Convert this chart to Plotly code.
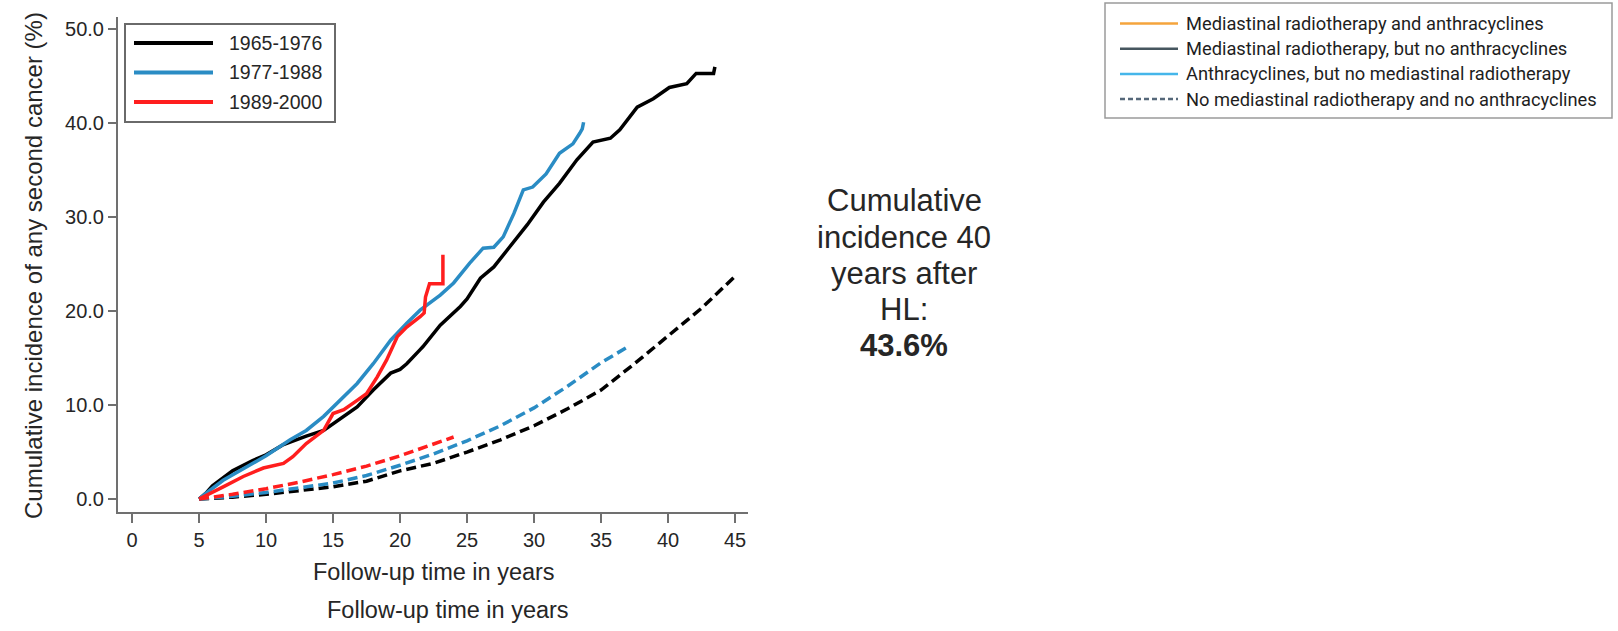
import plotly.graph_objects as go

# ---------------- data ----------------
# Cumulative incidence (%) of any second cancer by treatment era, observed (solid)
years_1965 = [5.0, 5.5, 6.0, 6.8, 7.5, 9.0, 10.0, 11.3, 12.5, 13.0, 14.3, 15.0, 15.5, 16.8,
              18.0, 19.0, 19.3, 20.0, 20.5, 21.5, 21.7, 23.0, 24.0, 24.5, 25.0, 26.0, 27.0,
              28.2, 29.5, 30.7, 31.9, 33.2, 34.4, 35.7, 36.4, 37.7, 38.9, 40.1, 41.4, 42.1,
              43.4, 43.5]
inc_1965 = [0.0, 0.6, 1.4, 2.3, 3.0, 4.1, 4.7, 5.8, 6.5, 6.7, 7.3, 8.0, 8.4, 9.8,
            11.6, 13.0, 13.4, 13.8, 14.4, 15.9, 16.2, 18.5, 19.8, 20.5, 21.3, 23.5, 24.7,
            26.8, 29.2, 31.6, 33.6, 36.1, 38.0, 38.4, 39.3, 41.7, 42.6, 43.8, 44.2, 45.3,
            45.3, 46.0]

years_1977 = [5.0, 5.5, 6.8, 8.0, 9.3, 10.0, 11.8, 13.0, 14.3, 15.5, 16.8, 18.0, 19.3,
              20.5, 21.5, 23.0, 24.0, 25.2, 26.2, 27.0, 27.7, 28.5, 29.2, 29.9, 30.9,
              31.9, 32.9, 33.4, 33.6, 33.7]
inc_1977 = [0.0, 0.6, 2.0, 3.0, 4.1, 4.6, 6.3, 7.3, 8.8, 10.5, 12.3, 14.4, 16.9,
            18.7, 20.1, 21.7, 23.0, 25.1, 26.7, 26.8, 27.9, 30.4, 32.9, 33.2, 34.6,
            36.8, 37.8, 38.9, 39.4, 40.1]

years_1989 = [5.0, 5.6, 6.8, 8.3, 9.8, 11.3, 12.0, 13.0, 14.3, 15.0, 15.8, 16.8, 17.5,
              18.3, 19.0, 19.8, 20.5, 21.5, 21.8, 21.9, 22.2, 23.2, 23.2]
inc_1989 = [0.0, 0.4, 1.3, 2.4, 3.3, 3.8, 4.5, 5.9, 7.3, 9.1, 9.5, 10.5, 11.2,
            13.0, 14.8, 17.3, 18.3, 19.4, 19.8, 21.5, 22.9, 22.9, 26.0]

# Expected incidence in the general population (dashed)
years_exp_1965 = [5.0, 7.5, 10.0, 12.5, 15.0, 17.5, 20.0, 22.5, 25.0, 27.5, 30.0, 32.5,
                  35.0, 37.5, 40.0, 42.5, 45.0]
inc_exp_1965 = [0.0, 0.2, 0.5, 0.9, 1.3, 1.9, 3.0, 3.8, 5.0, 6.3, 7.8, 9.6,
                11.6, 14.4, 17.3, 20.3, 23.7]

years_exp_1977 = [5.0, 7.5, 10.0, 12.5, 15.0, 17.5, 20.0, 22.5, 25.0, 27.5, 30.0, 32.5,
                  35.0, 37.0]
inc_exp_1977 = [0.0, 0.3, 0.7, 1.2, 1.7, 2.5, 3.6, 4.8, 6.2, 7.8, 9.7, 12.0,
                14.5, 16.2]

years_exp_1989 = [5.0, 7.5, 10.0, 12.5, 15.0, 17.5, 20.0, 22.5, 24.0]
inc_exp_1989 = [0.0, 0.5, 1.1, 1.8, 2.6, 3.5, 4.6, 5.8, 6.6]

era_names = ["1965-1976", "1977-1988", "1989-2000"]
era_colors = ["#000000", "#2A8CC4", "#FF1E1E"]

x_ticks = [0, 5, 10, 15, 20, 25, 30, 35, 40, 45]
y_ticks = [0, 10, 20, 30, 40, 50]

treatment_names = [
    "Mediastinal radiotherapy and anthracyclines",
    "Mediastinal radiotherapy, but no anthracyclines",
    "Anthracyclines, but no mediastinal radiotherapy",
    "No mediastinal radiotherapy and no anthracyclines",
]
treatment_colors = ["#F5A43C", "#46565F", "#45B6EA", "#56687A"]
treatment_dash = ["solid", "solid", "solid", "dash"]

summary_lines = ["Cumulative", "incidence 40", "years after", "HL:", "<b>43.6%</b>"]

# ---------------- figure ----------------
W, H = 1618, 631
L, R, T, B = 118, 870, 17, 119
PW, PH = W - L - R, H - T - B


def px_x(p):
    return (p - L) / PW


def px_y(p):
    return (H - B - p) / PH


FONT = "Liberation Sans, Arial, sans-serif"
AXIS_GREY = "#707070"
TEXT = "#262626"

fig = go.Figure()

observed = [(years_1965, inc_1965), (years_1977, inc_1977), (years_1989, inc_1989)]
expected = [(years_exp_1965, inc_exp_1965), (years_exp_1977, inc_exp_1977),
            (years_exp_1989, inc_exp_1989)]

for (xs, ys), name, col in zip(expected, era_names, era_colors):
    fig.add_trace(go.Scatter(x=xs, y=ys, mode="lines", name=name + " expected",
                             line=dict(color=col, width=3.5, dash="10px,5px"),
                             showlegend=False))
for (xs, ys), name, col in zip(observed, era_names, era_colors):
    fig.add_trace(go.Scatter(x=xs, y=ys, mode="lines", name=name,
                             line=dict(color=col, width=3.5), showlegend=False))

shapes = []
annotations = []

# era legend box
shapes.append(dict(type="rect", xref="paper", yref="paper",
                   x0=px_x(125), x1=px_x(335), y0=px_y(122), y1=px_y(24),
                   line=dict(color="#6a6a6a", width=2), fillcolor="white", layer="above"))
for i, (name, col) in enumerate(zip(era_names, era_colors)):
    yy = 43 + i * 29.5
    shapes.append(dict(type="line", xref="paper", yref="paper",
                       x0=px_x(134), x1=px_x(213), y0=px_y(yy), y1=px_y(yy),
                       line=dict(color=col, width=4)))
    annotations.append(dict(xref="paper", yref="paper", x=px_x(227), y=px_y(yy),
                            text=name, showarrow=False, xanchor="left", yanchor="middle",
                            font=dict(family=FONT, size=19.5, color=TEXT)))

# treatment legend box
shapes.append(dict(type="rect", xref="paper", yref="paper",
                   x0=px_x(1105), x1=px_x(1612), y0=px_y(118), y1=px_y(3),
                   line=dict(color="#9a9a9a", width=1.5), fillcolor="rgba(0,0,0,0)"))
for i, (name, col, dsh) in enumerate(zip(treatment_names, treatment_colors, treatment_dash)):
    yy = 23.5 + i * 25.2
    shapes.append(dict(type="line", xref="paper", yref="paper",
                       x0=px_x(1120), x1=px_x(1178), y0=px_y(yy), y1=px_y(yy),
                       line=dict(color=col, width=2.5,
                                 dash="5px,3px" if dsh == "dash" else "solid")))
    annotations.append(dict(xref="paper", yref="paper", x=px_x(1184), y=px_y(yy),
                            text=name, showarrow=False, xanchor="left", yanchor="middle",
                            font=dict(family="Roboto, sans-serif",
                                      size=18.3, color="#1e1e1e")))

# summary text
for i, line in enumerate(summary_lines):
    annotations.append(dict(xref="paper", yref="paper", x=px_x(904), y=px_y(201 + i * 36.2),
                            text=line, showarrow=False, xanchor="center", yanchor="middle",
                            font=dict(family=FONT, size=31, color=TEXT)))

# axis titles
annotations.append(dict(xref="paper", yref="paper", x=px_x(434), y=px_y(572),
                        text="Follow-up time in years", showarrow=False,
                        xanchor="center", yanchor="middle",
                        font=dict(family=FONT, size=23.5, color=TEXT)))
annotations.append(dict(xref="paper", yref="paper", x=px_x(448), y=px_y(610),
                        text="Follow-up time in years", showarrow=False,
                        xanchor="center", yanchor="middle",
                        font=dict(family=FONT, size=23.5, color=TEXT)))
annotations.append(dict(xref="paper", yref="paper", x=px_x(33), y=px_y(266),
                        text="Cumulative incidence of any second cancer (%)", showarrow=False,
                        textangle=-90, xanchor="center", yanchor="middle",
                        font=dict(family=FONT, size=24, color=TEXT)))

fig.update_layout(
    width=W, height=H,
    margin=dict(l=L, r=R, t=T, b=B, pad=0),
    paper_bgcolor="white", plot_bgcolor="white",
    showlegend=False,
    font=dict(family=FONT, color=TEXT),
    shapes=shapes,
    annotations=annotations,
    xaxis=dict(range=[-1.05, 45.97], tickvals=x_ticks, showgrid=False, zeroline=False,
               showline=True, linecolor=AXIS_GREY, linewidth=2,
               ticks="outside", ticklen=9, tickwidth=2, tickcolor=AXIS_GREY,
               tickfont=dict(family=FONT, size=20, color=TEXT)),
    yaxis=dict(range=[-1.38, 51.3], tickvals=y_ticks, tickformat=".1f", showgrid=False,
               zeroline=False, showline=True, linecolor=AXIS_GREY, linewidth=2,
               ticks="outside", ticklen=8, tickwidth=2, tickcolor=AXIS_GREY,
               tickfont=dict(family=FONT, size=20, color=TEXT)),
)

fig.write_html("out.html")
